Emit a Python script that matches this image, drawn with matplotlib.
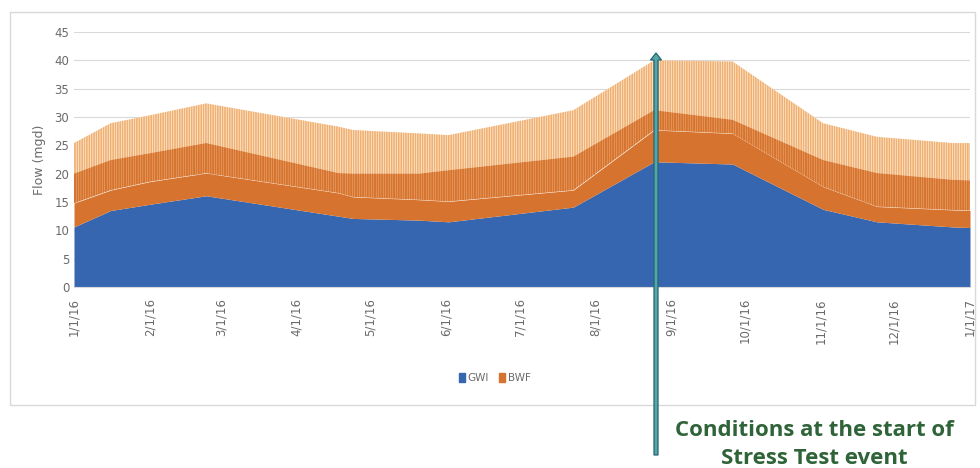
import matplotlib
matplotlib.use("Agg")
import matplotlib.pyplot as plt
import matplotlib.patches as mpatches
import matplotlib.transforms as mtransforms
import pandas as pd

# knot dates
knot_dates = ["2016-01-01", "2016-01-16", "2016-02-01", "2016-02-24", "2016-04-18",
              "2016-04-24", "2016-05-21", "2016-06-02", "2016-07-23", "2016-08-25",
              "2016-09-26", "2016-11-02", "2016-11-24", "2016-12-25", "2017-01-01"]
# groundwater infiltration (mgd)
gwi = [10.6, 13.5, 14.6, 16.1, 12.5, 12.1, 11.8, 11.5, 14.1, 22.1, 21.7, 13.7, 11.5, 10.6, 10.5]
# total flow envelopes (GWI + BWF): daily minimum, mid streaks, daily peak
bwf_low = [14.8, 17.1, 18.6, 20.1, 16.6, 15.9, 15.4, 15.1, 17.1, 27.7, 27.1, 17.7, 14.2, 13.6, 13.5]
bwf_mid = [20.0, 22.4, 23.6, 25.4, 20.1, 20.0, 20.0, 20.6, 23.0, 31.2, 29.5, 22.4, 20.1, 18.9, 18.8]
bwf_peak = [25.4, 28.9, 30.3, 32.4, 28.3, 27.7, 27.1, 26.8, 31.2, 40.0, 39.8, 28.9, 26.5, 25.4, 25.4]

tick_dates = ["2016-01-01", "2016-02-01", "2016-03-01", "2016-04-01", "2016-05-01",
              "2016-06-01", "2016-07-01", "2016-08-01", "2016-09-01", "2016-10-01",
              "2016-11-01", "2016-12-01", "2017-01-01"]
tick_labels = ["1/1/16", "2/1/16", "3/1/16", "4/1/16", "5/1/16", "6/1/16", "7/1/16",
               "8/1/16", "9/1/16", "10/1/16", "11/1/16", "12/1/16", "1/1/17"]

blue = "#3766b1"
orange = "#d6732f"
light = "#f0b070"
pale = "#fdf0e3"
grey = "#6a6a6a"

x = pd.to_datetime(knot_dates)
xt = pd.to_datetime(tick_dates)

fig = plt.figure(figsize=(9.8, 4.68), dpi=100)

# outer chart frame
fig.add_artist(mpatches.Rectangle((10 / 980, 1 - 405 / 468), 965 / 980, 393 / 468,
                                  transform=fig.transFigure, fill=False,
                                  ec="#d9d9d9", lw=1))

ax = fig.add_axes([74 / 980, 1 - 287 / 468, 896 / 980, 255 / 468])
ax.set_axisbelow(True)
ax.yaxis.grid(True, color="#d9d9d9", lw=0.8)

ax.fill_between(x, 0, gwi, color=blue, lw=0)
ax.fill_between(x, gwi, bwf_low, color=orange, lw=0)
with plt.rc_context({"hatch.linewidth": 1.2}):
    ax.fill_between(x, bwf_mid, bwf_peak, facecolor=pale, edgecolor=light,
                    hatch="|" * 7, lw=0)
with plt.rc_context({"hatch.linewidth": 1.4}):
    ax.fill_between(x, bwf_low, bwf_mid, facecolor="#f2bb85", edgecolor=orange,
                    hatch="|" * 7, lw=0)

ax.set_ylim(0, 45)
ax.set_yticks(range(0, 46, 5))
ax.set_xlim(xt[0], xt[-1])
ax.set_xticks(xt)
ax.set_xticklabels(tick_labels, rotation=90, va="top", ha="center")
ax.tick_params(axis="both", colors=grey, labelsize=8.5, length=0)
ax.tick_params(axis="x", pad=8)
for s in ["top", "right", "left"]:
    ax.spines[s].set_visible(False)
ax.spines["bottom"].set_color("#d9d9d9")
ax.set_ylabel("Flow (mgd)", color=grey, fontsize=9, labelpad=6)

fig.legend(handles=[mpatches.Patch(color=blue, label="GWI"),
                    mpatches.Patch(color=orange, label="BWF")],
           loc="center", bbox_to_anchor=(495 / 980, 1 - 378 / 468), ncol=2,
           frameon=False, fontsize=7.5, labelcolor=grey, handlelength=0.5,
           handleheight=1.0, handletextpad=0.3, columnspacing=1.0)

# annotation arrow, in pixel coordinates
arrow = mpatches.FancyArrow(656, 468 - 455, 0, 455 - 53, width=4, head_width=11,
                            head_length=7, length_includes_head=True,
                            fc="#52a8a6", ec="#2a6472", lw=0.9,
                            transform=mtransforms.IdentityTransform())
fig.add_artist(arrow)

fig.text(814 / 980, 1 - 430 / 468, "Conditions at the start of", ha="center", va="center",
         fontsize=16, fontweight="bold", color="#2f6338", family="Open Sans")
fig.text(814 / 980, 1 - 459 / 468, "Stress Test event", ha="center", va="center",
         fontsize=16, fontweight="bold", color="#2f6338", family="Open Sans")

fig.savefig("out.png", dpi=100)
